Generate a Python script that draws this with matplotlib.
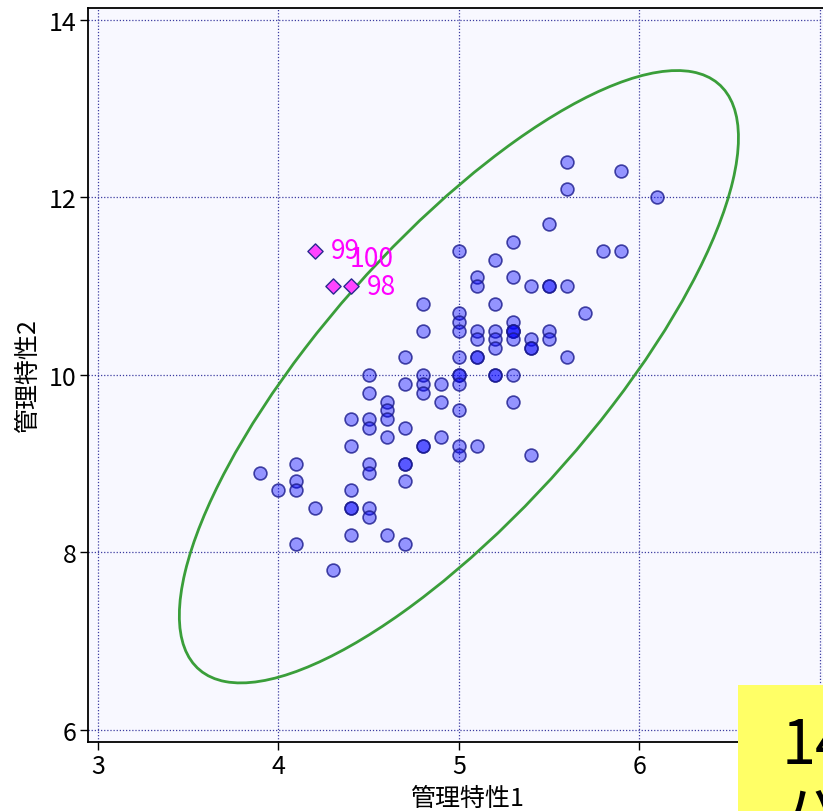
import numpy as np
import matplotlib
matplotlib.use('Agg')
import matplotlib.pyplot as plt
from matplotlib.patches import Ellipse, Rectangle

plt.rcParams['font.family'] = ['Noto Sans CJK JP', 'DejaVu Sans']

# data: 管理特性1 (x) and 管理特性2 (y), points 1-97
x_vals = [3.9, 4.0,
          4.1, 4.1, 4.1, 4.1,
          4.2, 4.3,
          4.4, 4.4, 4.4, 4.4, 4.4, 4.4,
          4.5, 4.5, 4.5, 4.5, 4.5, 4.5, 4.5, 4.5,
          4.6, 4.6, 4.6, 4.6, 4.6,
          4.7, 4.7, 4.7, 4.7, 4.7, 4.7, 4.7,
          4.8, 4.8, 4.8, 4.8, 4.8, 4.8, 4.8,
          4.9, 4.9, 4.9,
          5.0, 5.0, 5.0, 5.0, 5.0, 5.0, 5.0, 5.0, 5.0, 5.0, 5.0,
          5.1, 5.1, 5.1, 5.1, 5.1, 5.1, 5.1,
          5.2, 5.2, 5.2, 5.2, 5.2, 5.2, 5.2,
          5.3, 5.3, 5.3, 5.3, 5.3, 5.3, 5.3, 5.3, 5.3,
          5.4, 5.4, 5.4, 5.4, 5.4,
          5.5, 5.5, 5.5, 5.5, 5.5,
          5.6, 5.6, 5.6, 5.6,
          5.7, 5.8, 5.9, 5.9, 6.1]
y_vals = [8.9, 8.7,
          9.0, 8.8, 8.7, 8.1,
          8.5, 7.8,
          9.5, 9.2, 8.7, 8.5, 8.5, 8.2,
          10.0, 9.8, 9.5, 9.4, 9.0, 8.9, 8.5, 8.4,
          9.7, 9.6, 9.5, 9.3, 8.2,
          10.2, 9.9, 9.4, 9.0, 9.0, 8.8, 8.1,
          10.8, 10.5, 10.0, 9.9, 9.8, 9.2, 9.2,
          9.9, 9.7, 9.3,
          11.4, 10.7, 10.6, 10.5, 10.2, 10.0, 10.0, 9.9, 9.6, 9.2, 9.1,
          11.1, 11.0, 10.5, 10.4, 10.2, 10.2, 9.2,
          11.3, 10.8, 10.5, 10.4, 10.3, 10.0, 10.0,
          11.5, 11.1, 10.6, 10.5, 10.5, 10.5, 10.4, 10.0, 9.7,
          11.0, 10.4, 10.3, 10.3, 9.1,
          11.7, 11.0, 11.0, 10.5, 10.4,
          12.4, 12.1, 11.0, 10.2,
          10.7, 11.4, 12.3, 11.4, 12.0]

# outliers (points 98-100)
out_x = [4.4, 4.2, 4.3]
out_y = [11.0, 11.4, 11.0]
out_labels = ['98', '99', '100']
out_offsets = [(22, 0), (22, 0), (28, 20)]  # label offsets in points

# control ellipse: centre and covariance-like shape matrix
ell_center = (5.0, 9.98)
ell_shape = np.array([[2.40, 4.17], [4.17, 11.9]])

xticks = [3, 4, 5, 6, 7]
yticks = [6, 8, 10, 12, 14]

fig = plt.figure(figsize=(8.23, 8.12), dpi=100)
ax = fig.add_axes([0.107, 0.085, 0.922, 0.904])
ax.set_facecolor('#F8F8FF')

ax.grid(True, color='#3C3CA0', linestyle=(0, (1, 1.5)), linewidth=0.9)
ax.set_axisbelow(True)

# ellipse from eigen decomposition
evals, evecs = np.linalg.eigh(ell_shape)
angle = np.degrees(np.arctan2(evecs[1, 1], evecs[0, 1]))
ell = Ellipse(ell_center, width=2 * np.sqrt(evals[1]), height=2 * np.sqrt(evals[0]),
              angle=angle, fill=False, edgecolor='#3A9E3A', linewidth=2.0, zorder=2)
ax.add_patch(ell)

ax.scatter(x_vals, y_vals, s=85, facecolor=(0, 0, 1, 0.4),
           edgecolor=(0.1, 0.1, 0.55, 0.8), linewidth=1.2, zorder=3)
ax.scatter(out_x, out_y, s=60, marker='D', facecolor='#FF44FF',
           edgecolor='#2A2A90', linewidth=1.0, zorder=3)
for xx, yy, lab, off in zip(out_x, out_y, out_labels, out_offsets):
    ax.annotate(lab, (xx, yy), xytext=off, textcoords='offset points',
                color='#FF00FF', fontsize=19, va='center', ha='center')

ax.set_xlim(2.945, 7.15)
ax.set_ylim(5.865, 14.135)
ax.set_xticks(xticks)
ax.set_yticks(yticks)
ax.tick_params(labelsize=18, length=6, width=1.0, direction='out', pad=2)
for sp in ax.spines.values():
    sp.set_linewidth(1.3)

ax.set_xlabel('管理特性1', fontsize=18, labelpad=4)
ax.set_ylabel('管理特性2', fontsize=18, labelpad=6)

# yellow note box cut off at the lower right corner
fig.patches.append(Rectangle((0.8967, 0.0), 0.2, 0.155, transform=fig.transFigure,
                             facecolor='#FFFF66', edgecolor='none', zorder=10))
fig.text(0.950, 0.060, '14', fontsize=44, color='black', zorder=11,
         ha='left', va='baseline', family=['Noto Sans CJK JP', 'DejaVu Sans'])
fig.text(0.948, 0.034, 'パ', fontsize=44, color='black', zorder=11,
         ha='left', va='top', family=['Noto Sans CJK JP', 'DejaVu Sans'])

plt.savefig('out.png', dpi=100)
